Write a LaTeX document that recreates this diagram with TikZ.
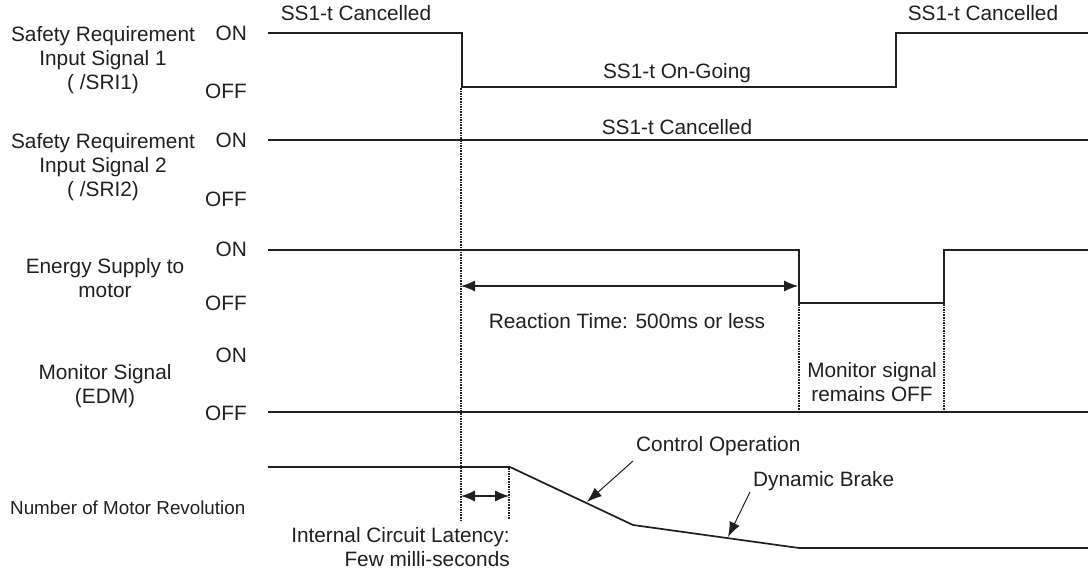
\documentclass[tikz,border=0pt]{standalone}
\usepackage{fontspec}
\setmainfont{Liberation Sans}
\usetikzlibrary{arrows.meta}
\definecolor{ink}{HTML}{231F20}
\tikzset{
  sig/.style={line width=2.2pt, color=ink, line join=miter},
  rev/.style={line width=1.7pt, color=ink},
  dots/.style={line width=2pt, color=ink, dash pattern=on 1.6pt off 1pt},
  dim/.style={line width=1.1pt, color=ink, {Latex[length=14pt,width=11pt]}-{Latex[length=14pt,width=11pt]}},
  pointer/.style={line width=1pt, color=ink, -{Latex[length=15pt,width=11pt]}},
  txt/.style={text=ink, inner sep=0pt, font=\fontsize{20.8}{24}\selectfont},
  lab/.style={txt, align=center},
  onoff/.style={txt, anchor=east},
}
\begin{document}
\begin{tikzpicture}[x=1pt,y=-1pt]
\useasboundingbox (0,0) rectangle (1088,570);
% left labels
\node[lab] (l1) at (103,60) {Safety Requirement\\Input Signal 1\\( /SRI1)};
\node[lab] (l2) at (103,167) {Safety Requirement\\Input Signal 2\\( /SRI2)};
\node[lab] (l3) at (105,278) {Energy Supply to\\motor};
\node[lab] (l4) at (105,386) {Monitor Signal\\(EDM)};
\node[txt, anchor=west, font=\fontsize{18.8}{22}\selectfont] (l5) at (10,508) {Number of Motor Revolution};
% ON/OFF
\node[onoff] (on1) at (247,33) {ON};
\node[onoff] (off1) at (247,91) {OFF};
\node[onoff] (on2) at (247,140) {ON};
\node[onoff] (off2) at (247,199) {OFF};
\node[onoff] (on3) at (247,249) {ON};
\node[onoff] (off3) at (247,303) {OFF};
\node[onoff] (on4) at (247,355) {ON};
\node[onoff] (off4) at (247,413) {OFF};
% key coordinates
\coordinate (s1a) at (268,33);
\coordinate (s1b) at (462,33);
\coordinate (s1c) at (462,87);
\coordinate (s1d) at (896,87);
\coordinate (s1e) at (896,33);
\coordinate (s1f) at (1088,33);
\coordinate (s2a) at (268,140);
\coordinate (s2b) at (1088,140);
\coordinate (e1a) at (268,250);
\coordinate (e1b) at (799,250);
\coordinate (e1c) at (799,303);
\coordinate (e1d) at (944,303);
\coordinate (e1e) at (944,250);
\coordinate (e1f) at (1088,250);
\coordinate (m1a) at (268,412);
\coordinate (m1b) at (1088,412);
\coordinate (r1) at (268,467);
\coordinate (r2) at (510,467);
\coordinate (r3) at (633,525);
\coordinate (r4) at (799,548);
\coordinate (r5) at (1088,548);
% signals
\draw[sig] (s1a) -- (s1b) -- (s1c) -- (s1d) -- (s1e) -- (s1f);
\draw[sig] (s2a) -- (s2b);
\draw[sig] (e1a) -- (e1b) -- (e1c) -- (e1d) -- (e1e) -- (e1f);
\draw[sig] (m1a) -- (m1b);
\draw[sig] (r1) -- (r2);
\draw[rev] (r2) -- (r3) -- (r4);
\draw[sig] (r4) -- (r5);
% dotted guides
\coordinate (d1a) at (461,88);
\coordinate (d1b) at (461,520);
\coordinate (d2a) at (509,468);
\coordinate (d2b) at (509,520);
\coordinate (d3a) at (799,304);
\coordinate (d3b) at (799,412);
\coordinate (d4a) at (944,304);
\coordinate (d4b) at (944,412);
\draw[dots] (d1a) -- (d1b);
\draw[dots] (d2a) -- (d2b);
\draw[dots] (d3a) -- (d3b);
\draw[dots] (d4a) -- (d4b);
% texts
\node[txt] (t1) at (356,13) {SS1-t Cancelled};
\node[txt] (t2) at (983,13) {SS1-t Cancelled};
\node[txt] (t3) at (677,73) {SS1-t On-Going};
\node[txt] (t4) at (677,127) {SS1-t Cancelled};
\node[txt] (t5) at (627,321) {Reaction Time: 500ms or less};
\node[lab] (t6) at (872,382) {Monitor signal\\remains OFF};
\node[txt, anchor=west] (t7) at (636,446) {Control Operation};
\node[txt, anchor=west] (t8) at (753,481) {Dynamic Brake};
\node[txt, align=right, anchor=east] (t9) at (510,547) {Internal Circuit Latency:\\Few milli-seconds};
% dimension arrows
\coordinate (ra) at (461,286);
\coordinate (rb) at (798,286);
\draw[dim] (ra) -- (rb);
\coordinate (la) at (461,496);
\coordinate (lb) at (509,496);
\draw[dim] (la) -- (lb);
% pointers
\coordinate (p1s) at (633,461);
\coordinate (p1e) at (587,502);
\draw[pointer] (p1s) -- (p1e);
\coordinate (p2s) at (750,492);
\coordinate (p2e) at (728,537);
\draw[pointer] (p2s) -- (p2e);
\end{tikzpicture}
\end{document}
